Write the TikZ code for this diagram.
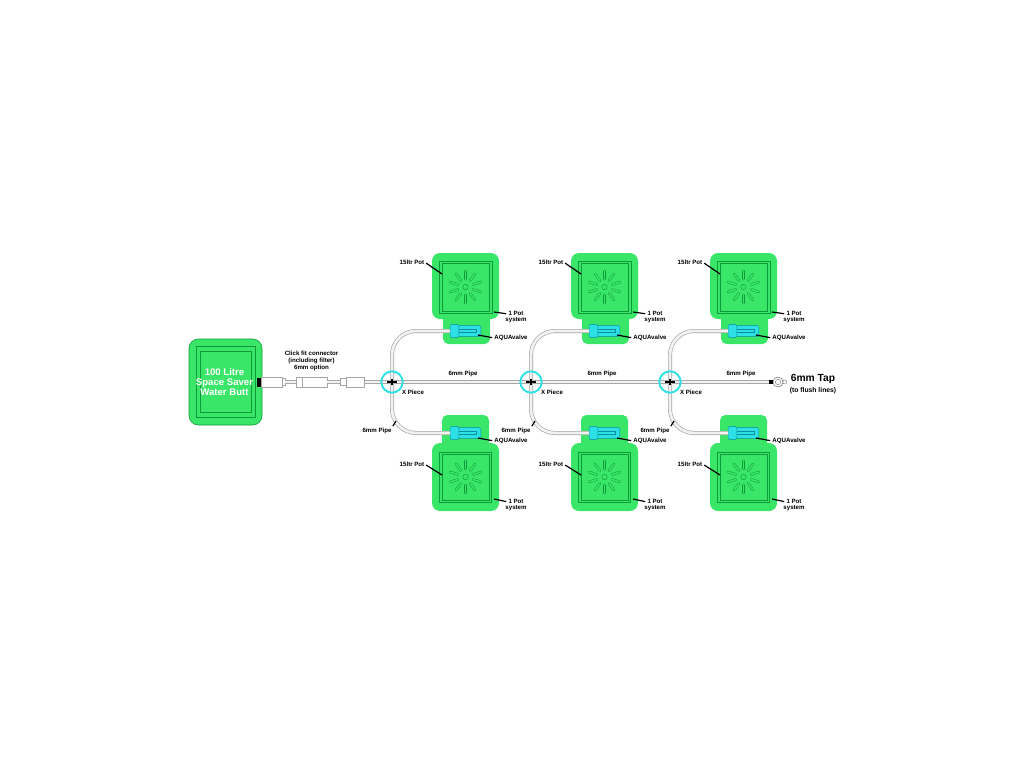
\documentclass[tikz,border=0pt]{standalone}
\usepackage{fontspec}
\setmainfont{Liberation Sans}
\usetikzlibrary{positioning,calc}
\definecolor{potgreen}{HTML}{3AE668}
\definecolor{potline}{HTML}{0E9A38}
\definecolor{valvecyan}{HTML}{2CE0E6}
\definecolor{valveline}{HTML}{0C8F9A}
\definecolor{pipegrey}{HTML}{A6A6A6}
\definecolor{pipefill}{HTML}{F2F2F2}

\begin{document}
\begin{tikzpicture}[x=0.75pt,y=-0.75pt]
	\tikzstyle{lbl}=[inner sep=0pt, font=\fontsize{4.6}{5.2}\selectfont\bfseries, align=center]
	\tikzstyle{leader}=[line width=0.9pt, black, shorten <=1.5pt]
	\tikzstyle{pipe}=[preaction={draw=pipegrey, line width=3pt}, draw=pipefill, line width=2pt]
	\tikzstyle{pot}=[draw=potline, line width=0.45pt, inner sep=0pt, outer sep=0pt]
	\tikzstyle{potbody}=[fill=potgreen, inner sep=0pt, outer sep=0pt, minimum width=50.25pt, rounded corners=6pt]
	\tikzstyle{pottab}=[potbody, minimum width=35.25pt, minimum height=25.5pt, rounded corners=4pt]
	\tikzstyle{ray}=[draw=potline, double=potgreen, line width=0.35pt, double distance=1.2pt, line cap=round]
	\tikzstyle{valve}=[draw=valveline, fill=valvecyan, line width=0.3pt, inner sep=0pt, outer sep=0pt, minimum width=20pt, minimum height=8pt, rounded corners=1pt]
	\tikzstyle{part}=[draw=pipegrey, fill=white, line width=0.4pt, inner sep=0pt, outer sep=0pt, minimum height=7.2pt]
	\tikzstyle{neck}=[part, minimum height=5pt]

	\useasboundingbox (0,0) rectangle (1024,768);

	% tank
	\node[potbody, draw=potline, line width=0.45pt, minimum width=54.75pt, minimum height=64.5pt, rounded corners=7pt] (tank) at (225.5,382) {};
	\node[pot, minimum width=44.25pt, minimum height=53.25pt] (tank1) at (tank.center) {};
	\node[pot, minimum width=38.25pt, minimum height=45.75pt] (tank2) at (tank.center) {};
	\node[inner sep=0pt, white, align=center, font=\fontsize{7.2}{7.5}\selectfont\bfseries] (tanktext) at (224.5,382) {100 Litre\\Space Saver\\Water Butt};

	% main pipe
	\coordinate (pipestart) at (360,382);
	\coordinate (pipeend) at (771,382);
	\draw[pipe] (pipestart) -- (pipeend);

	% click fit connector
	\node[part, minimum width=15.75pt] (conn1) at (271.5,382) {};
	\node[neck, minimum width=2.25pt] (neck1) at (283.5,382) {};
	\node[part, minimum width=23.25pt] (conn2) at (311.5,382) {};
	\node[neck, minimum width=4.5pt] (neck2) at (343,382) {};
	\node[part, minimum width=13.5pt] (conn3) at (355,382) {};
	\node[fill=black, inner sep=0pt, minimum width=3pt, minimum height=7pt] (stub) at (259,382.5) {};
	\draw[pipe] (neck1) -- (conn2);
	\draw[pipe] (conn2) -- (neck2);
	\draw[pipegrey, line width=0.4pt] ($(conn2.north west)+(6,0)$) -- ($(conn2.south west)+(6,0)$);
	\node[lbl] (clicktext) [above=5pt of conn2] {Click fit connector\\(including filter)\\6mm option};

	% tap end
	\node[draw=pipegrey!70!black, fill=white, circle, line width=0.4pt, inner sep=0pt, minimum size=7.5pt] (tap) at (778,382) {};
	\node[draw=pipegrey!70!black, circle, line width=0.3pt, inner sep=0pt, minimum size=4pt] (tapin) at (tap.center) {};
	\node[draw=pipegrey!70!black, fill=white, circle, line width=0.3pt, inner sep=0pt, minimum size=3pt] (tapnub) [right=-0.5pt of tap] {};
	\node[fill=black, inner sep=0pt, minimum width=3pt, minimum height=3pt] (tapstub) at (771,382) {};
	\node[inner sep=0pt, font=\fontsize{7.7}{9}\selectfont\bfseries] (taptext) at (813,379) {6mm Tap};
	\node[inner sep=0pt, font=\fontsize{5.1}{6}\selectfont\bfseries] (tapsub) at (813,391) {(to flush lines)};

	\foreach \i/\dx in {1/0,2/139,3/278}{
		\begin{scope}[shift={(\dx,0)}]
			% top pot
			\node[pottab] (ttab\i) at (466.5,327) {};
			\node[potbody, minimum height=49.5pt] (tbody\i) at (465.5,286) {};
			\node[pot, minimum width=39.75pt, minimum height=39pt] (tin\i) at (465.5,287) {};
			\node[pot, minimum width=35.25pt, minimum height=36pt] (tinn\i) at (465.5,287) {};
			\node[draw=potline, line width=0.35pt, circle, inner sep=0pt, minimum size=4pt] (tsun\i) at (465.5,287) {};
			\foreach \a in {18,54,...,342}
				\draw[ray] ([shift={(\a:8)}]tsun\i.center) -- ([shift={(\a:16)}]tsun\i.center);
			\node[valve] (tv\i) at (467.5,331) {};
			\node[valve, minimum width=6.5pt, minimum height=10pt] (thd\i) at (454.5,331) {};
			\draw[valveline, line width=0.3pt] (thd\i.east) ++(0,-1.5) -- ++(17,0) -- ++(0,3) -- ++(-17,0);

			% bottom pot
			\node[pottab] (btab\i) at (465.5,432) {};
			\node[potbody, minimum height=51pt] (bbody\i) at (465.5,477) {};
			\node[pot, minimum width=39pt, minimum height=37.5pt] (bin\i) at (465.5,477) {};
			\node[pot, minimum width=35pt, minimum height=34.5pt] (binn\i) at (465.5,477) {};
			\node[draw=potline, line width=0.35pt, circle, inner sep=0pt, minimum size=4pt] (bsun\i) at (465.5,477) {};
			\foreach \a in {18,54,...,342}
				\draw[ray] ([shift={(\a:8)}]bsun\i.center) -- ([shift={(\a:16)}]bsun\i.center);
			\node[valve] (bv\i) at (467.5,433) {};
			\node[valve, minimum width=6.5pt, minimum height=10pt] (bhd\i) at (454.5,433) {};
			\draw[valveline, line width=0.3pt] (bhd\i.east) ++(0,-1.5) -- ++(17,0) -- ++(0,3) -- ++(-17,0);

			% x piece and pipes
			\coordinate (xp\i) at (392,382);
			\draw[pipe, rounded corners=18pt] (xp\i) |- (thd\i.west);
			\draw[pipe, rounded corners=18pt] (xp\i) |- (bhd\i.west);
			\node[draw=valvecyan, circle, line width=1.4pt, inner sep=0pt, minimum size=16pt] (xring\i) at (xp\i) {};
			\node[fill=black, inner sep=0pt, minimum width=7pt, minimum height=2pt] (xh\i) at (xp\i) {};
			\node[fill=black, inner sep=0pt, minimum width=2pt, minimum height=5pt] (xw\i) at (xp\i) {};

			% labels
			\node[lbl] (xtext\i) at (413,392) {X Piece};
			\node[lbl] (mtext\i) at (463,374) {6mm Pipe};
			\node[lbl] (ttext\i) at (412,262) {15ltr Pot};
			\node[lbl] (stext\i) at (516,317) {1 Pot\\system};
			\node[lbl] (vtext\i) at (511,338) {AQUAvalve};
			\node[lbl] (btext\i) at (412,464) {15ltr Pot};
			\node[lbl] (sbtext\i) at (516,505) {1 Pot\\system};
			\node[lbl] (vbtext\i) at (511,441) {AQUAvalve};
			\node[lbl] (ptext\i) at (377,431) {6mm Pipe};

			\coordinate (tp\i) at (442,274);
			\coordinate (sp\i) at (494,312);
			\coordinate (vp\i) at (478,335);
			\coordinate (bp\i) at (442,475);
			\coordinate (sbp\i) at (494,499);
			\coordinate (vbp\i) at (478,438);
			\coordinate (pp\i) at (396,421);

			\draw[leader] (ttext\i.east) -- (tp\i);
			\draw[leader] ($(stext\i.west)+(3,-3)$) -- (sp\i);
			\draw[leader] (vtext\i.west) -- (vp\i);
			\draw[leader] (btext\i.east) -- (bp\i);
			\draw[leader] ($(sbtext\i.west)+(3,-3)$) -- (sbp\i);
			\draw[leader] (vbtext\i.west) -- (vbp\i);
			\draw[leader] (ptext\i.north east) -- (pp\i);
		\end{scope}
	}
\end{tikzpicture}
\end{document}
